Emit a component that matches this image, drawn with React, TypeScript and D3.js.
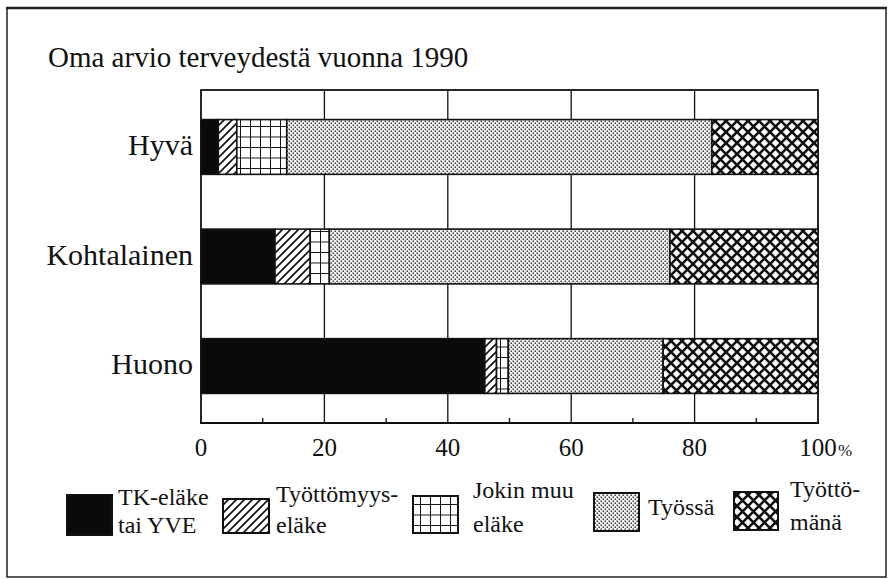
import { useEffect, useRef } from "react";
import * as d3 from "d3";

// Oma arvio terveydestä vuonna 1990 — stacked 100% bars
const categories = ["Hyvä", "Kohtalainen", "Huono"];
const seriesKeys = ["tk", "tyottEl", "jokin", "tyossa", "tyoton"];
const legendLines = [
  ["TK-eläke", "tai YVE"],
  ["Työttömyys-", "eläke"],
  ["Jokin muu", "eläke"],
  ["Työssä"],
  ["Työttö-", "mänä"],
];
const tkElake = [2.8, 12.0, 46.0];
const tyottomyysElake = [3.0, 5.7, 1.9];
const jokinMuuElake = [8.1, 3.1, 1.9];
const tyossa = [68.9, 55.2, 25.1];
const tyottomana = [17.2, 24.0, 25.1];
const majorTicks = [0, 20, 40, 60, 80, 100];
const minorTicks = [10, 30, 50, 70, 90];

const FONT = "Liberation Serif";

export default function App() {
  const svgRef = useRef<SVGSVGElement | null>(null);

  useEffect(() => {
    if (!svgRef.current) return;
    const width = 888;
    const height = 579;
    const plot = { left: 201, right: 818, top: 90, bottom: 423 };

    const svg = d3.select(svgRef.current);
    svg.selectAll("*").remove();

    svg.append("rect").attr("width", width).attr("height", height).attr("fill", "#fff");

    // patterns
    const defs = svg.append("defs");
    const hatch = defs
      .append("pattern")
      .attr("id", "hatch")
      .attr("patternUnits", "userSpaceOnUse")
      .attr("width", 8)
      .attr("height", 8);
    hatch.append("rect").attr("width", 8).attr("height", 8).attr("fill", "#fff");
    hatch
      .append("path")
      .attr("d", "M-2,10 L10,-2 M-2,2 L2,-2 M6,10 L10,6")
      .attr("stroke", "#111")
      .attr("stroke-width", 1.6);

    const grid = defs
      .append("pattern")
      .attr("id", "grid")
      .attr("patternUnits", "userSpaceOnUse")
      .attr("width", 10)
      .attr("height", 10.5);
    grid.append("rect").attr("width", 10).attr("height", 10.5).attr("fill", "#fff");
    grid
      .append("path")
      .attr("d", "M0,0 L10,0 M0,0 L0,10.5")
      .attr("stroke", "#111")
      .attr("stroke-width", 2);

    const dots = defs
      .append("pattern")
      .attr("id", "dots")
      .attr("patternUnits", "userSpaceOnUse")
      .attr("width", 4)
      .attr("height", 4);
    dots.append("rect").attr("width", 4).attr("height", 4).attr("fill", "#f2f2f2");
    dots.append("rect").attr("x", 0.5).attr("y", 0.5).attr("width", 1.5).attr("height", 1.5).attr("fill", "#444");
    dots.append("rect").attr("x", 2.5).attr("y", 2.5).attr("width", 1.5).attr("height", 1.5).attr("fill", "#444");

    const cross = defs
      .append("pattern")
      .attr("id", "cross")
      .attr("patternUnits", "userSpaceOnUse")
      .attr("width", 11)
      .attr("height", 11);
    cross.append("rect").attr("width", 11).attr("height", 11).attr("fill", "#fff");
    cross
      .append("path")
      .attr("d", "M-2,-2 L13,13 M-2,13 L13,-2")
      .attr("stroke", "#111")
      .attr("stroke-width", 2.6);

    const fills = ["#0a0a0a", "url(#hatch)", "url(#grid)", "url(#dots)", "url(#cross)"];

    // outer frame
    svg
      .append("rect")
      .attr("x", 7)
      .attr("y", 8)
      .attr("width", 879)
      .attr("height", 569)
      .attr("fill", "none")
      .attr("stroke", "#222")
      .attr("stroke-width", 1.5);
    svg
      .append("line")
      .attr("x1", 6)
      .attr("x2", 887)
      .attr("y1", 8)
      .attr("y2", 8)
      .attr("stroke", "#222")
      .attr("stroke-width", 2.5);

    // title
    svg
      .append("text")
      .attr("x", 48)
      .attr("y", 67)
      .style("font-family", FONT)
      .style("font-size", "29px")
      .attr("fill", "#111")
      .text("Oma arvio terveydestä vuonna 1990");

    const x = d3.scaleLinear().domain([0, 100]).range([plot.left, plot.right]);
    const y = d3
      .scaleBand<string>()
      .domain(categories)
      .range([plot.top, plot.bottom])
      .paddingInner(0.5)
      .paddingOuter(0.27);

    // plot frame + grid
    svg
      .append("rect")
      .attr("x", plot.left)
      .attr("y", plot.top)
      .attr("width", plot.right - plot.left)
      .attr("height", plot.bottom - plot.top)
      .attr("fill", "none")
      .attr("stroke", "#111")
      .attr("stroke-width", 1.8);

    svg
      .selectAll(".vgrid")
      .data(majorTicks.slice(1, -1))
      .join("line")
      .attr("x1", (d: number) => x(d))
      .attr("x2", (d: number) => x(d))
      .attr("y1", plot.top)
      .attr("y2", plot.bottom)
      .attr("stroke", "#111")
      .attr("stroke-width", 1.3);

    svg
      .selectAll(".minor")
      .data(minorTicks)
      .join("line")
      .attr("x1", (d: number) => x(d))
      .attr("x2", (d: number) => x(d))
      .attr("y1", plot.bottom - 5)
      .attr("y2", plot.bottom)
      .attr("stroke", "#111")
      .attr("stroke-width", 1.3);

    svg
      .append("line")
      .attr("x1", plot.left - 1)
      .attr("x2", plot.right + 1)
      .attr("y1", plot.bottom)
      .attr("y2", plot.bottom)
      .attr("stroke", "#111")
      .attr("stroke-width", 2.2);

    // stacked bars
    const rows = categories.map((c, i) => ({
      cat: c,
      tk: tkElake[i],
      tyottEl: tyottomyysElake[i],
      jokin: jokinMuuElake[i],
      tyossa: tyossa[i],
      tyoton: tyottomana[i],
    }));
    const stacked = d3.stack<any>().keys(seriesKeys)(rows);

    svg
      .append("g")
      .selectAll("g")
      .data(stacked)
      .join("g")
      .attr("fill", (_: any, i: number) => fills[i])
      .selectAll("rect")
      .data((d: any) => d)
      .join("rect")
      .attr("x", (d: any) => x(d[0]))
      .attr("width", (d: any) => x(d[1]) - x(d[0]))
      .attr("y", (d: any) => y(d.data.cat) as number)
      .attr("height", y.bandwidth())
      .attr("stroke", "#111")
      .attr("stroke-width", 1.6);

    // category labels
    svg
      .selectAll(".cat")
      .data(categories)
      .join("text")
      .attr("x", plot.left - 8)
      .attr("y", (d: string) => (y(d) as number) + y.bandwidth() / 2 + 8)
      .attr("text-anchor", "end")
      .style("font-family", FONT)
      .style("font-size", "30px")
      .attr("fill", "#111")
      .text((d: string) => d);

    // tick labels
    svg
      .selectAll(".tick")
      .data(majorTicks)
      .join("text")
      .attr("x", (d: number) => x(d))
      .attr("y", plot.bottom + 33)
      .attr("text-anchor", "middle")
      .style("font-family", FONT)
      .style("font-size", "25px")
      .attr("fill", "#111")
      .text((d: number) => String(d));
    svg
      .append("text")
      .attr("x", x(100) + 20)
      .attr("y", plot.bottom + 33)
      .style("font-family", FONT)
      .style("font-size", "17px")
      .attr("fill", "#111")
      .text("%");

    // legend
    const legendBoxes = [
      { x: 67, y: 495, w: 45, h: 40 },
      { x: 223, y: 499, w: 46, h: 34 },
      { x: 413, y: 496, w: 45, h: 37 },
      { x: 594, y: 493, w: 45, h: 38 },
      { x: 734, y: 492, w: 44, h: 38 },
    ];
    const legendText = [
      { x: 118, ys: [505, 533] },
      { x: 276, ys: [502, 533] },
      { x: 473, ys: [498, 532] },
      { x: 648, ys: [515] },
      { x: 790, ys: [497, 530] },
    ];
    legendBoxes.forEach((b, i) => {
      svg
        .append("rect")
        .attr("x", b.x)
        .attr("y", b.y)
        .attr("width", b.w)
        .attr("height", b.h)
        .attr("fill", fills[i])
        .attr("stroke", "#111")
        .attr("stroke-width", 2);
      const t = svg
        .append("text")
        .style("font-family", FONT)
        .style("font-size", "24px")
        .attr("fill", "#111");
      legendLines[i].forEach((line, j) => {
        t.append("tspan").attr("x", legendText[i].x).attr("y", legendText[i].ys[j]).text(line);
      });
    });
  }, []);

  return (
    <svg
      ref={svgRef}
      width={888}
      height={579}
      style={{ position: "absolute", left: 0, top: 0 }}
    ></svg>
  );
}
